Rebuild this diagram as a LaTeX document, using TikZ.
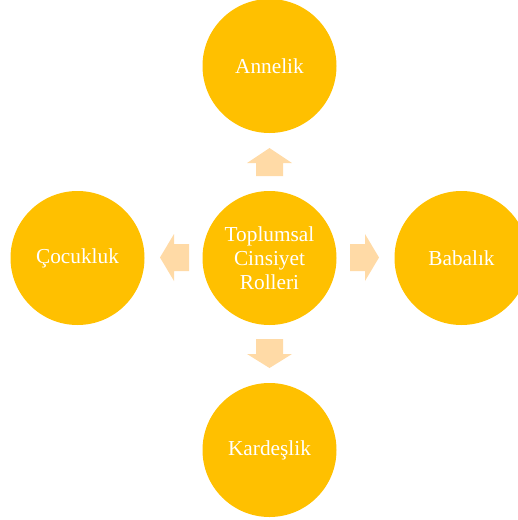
\documentclass[tikz,border=0pt]{standalone}
\usepackage{fontspec}
\setmainfont{Liberation Serif}
\definecolor{gold}{HTML}{FFC000}
\definecolor{peach}{HTML}{FFDAA6}
\tikzset{
  bubble/.style={circle, fill=gold, draw=none, minimum size=134pt, inner sep=0pt,
    text=white, align=center, font=\fontsize{21.3}{24}\selectfont},
  blockarrow/.style={fill=peach, draw=none}
}
\begin{document}
\begin{tikzpicture}[x=1pt,y=-1pt]
\useasboundingbox (0,0) rectangle (518,520);
\node[bubble] (c) at (269.5,258) {Toplumsal\\Cinsiyet\\Rolleri};
\node[bubble] (t) at (269.5,66) {Annelik};
\node[bubble] (l) at (77.5,258) {Çocukluk};
\node[bubble] (r) at (461.5,258) {Babalık};
\node[bubble] (b) at (269.5,450) {Kardeşlik};
% up arrow
\fill[blockarrow] (256,176) -- (256,163) -- (247,163) -- (269.5,148) -- (292,163) -- (283,163) -- (283,176) -- cycle;
% down arrow
\fill[blockarrow] (256,339) -- (256,354) -- (247,354) -- (269.5,368) -- (292,354) -- (283,354) -- (283,339) -- cycle;
% left arrow
\fill[blockarrow] (189,244) -- (174,244) -- (174,234) -- (160,257.5) -- (174,281) -- (174,271) -- (189,271) -- cycle;
% right arrow
\fill[blockarrow] (350,244) -- (365,244) -- (365,234) -- (379,257.5) -- (365,281) -- (365,271) -- (350,271) -- cycle;
\end{tikzpicture}
\end{document}
